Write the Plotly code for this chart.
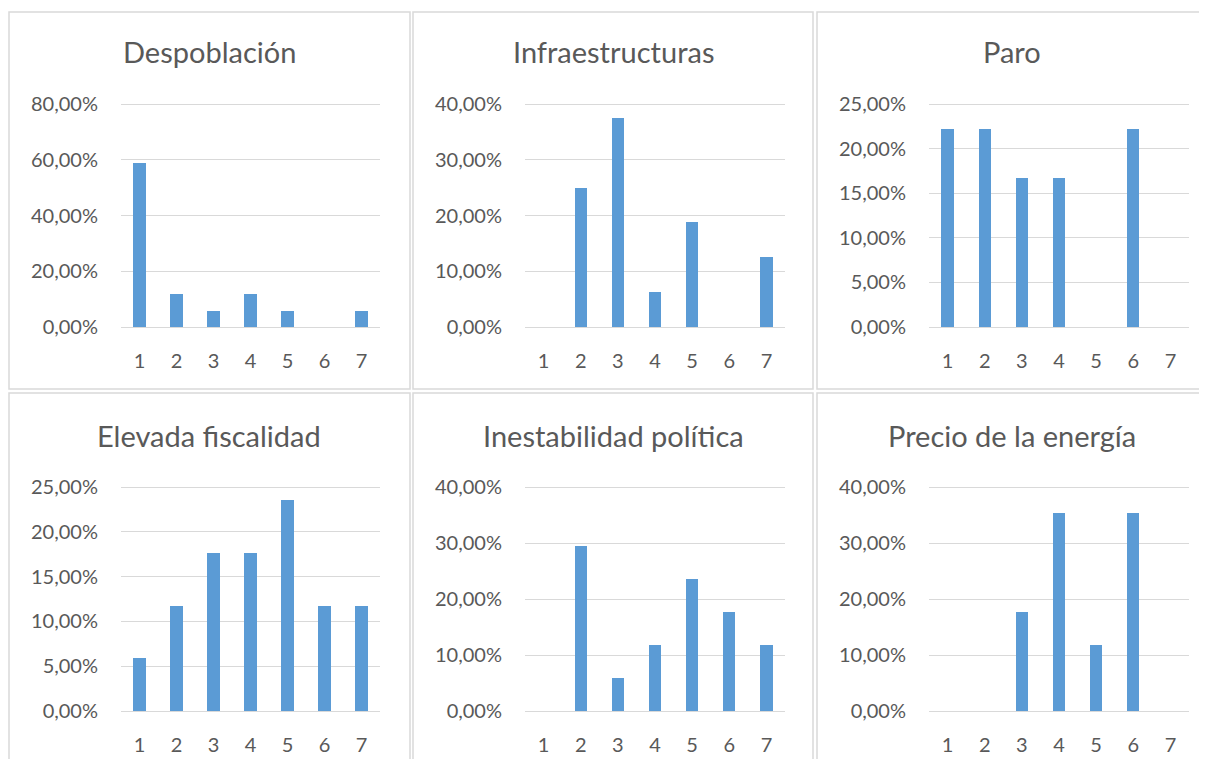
import plotly.graph_objects as go

categories = [1, 2, 3, 4, 5, 6, 7]

titles = ["Despoblación", "Infraestructuras", "Paro",
          "Elevada fiscalidad", "Inestabilidad política", "Precio de la energía"]

despoblacion = [0.5882, 0.1176, 0.0588, 0.1176, 0.0588, 0.0, 0.0588]
infraestructuras = [0.0, 0.25, 0.375, 0.0625, 0.1875, 0.0, 0.125]
paro = [0.2222, 0.2222, 0.1667, 0.1667, 0.0, 0.2222, 0.0]
fiscalidad = [0.0588, 0.1176, 0.1765, 0.1765, 0.2353, 0.1176, 0.1176]
inestabilidad = [0.0, 0.2941, 0.0588, 0.1176, 0.2353, 0.1765, 0.1176]
energia = [0.0, 0.0, 0.1765, 0.3529, 0.1176, 0.3529, 0.0]

series = [despoblacion, infraestructuras, paro, fiscalidad, inestabilidad, energia]
y_max = [0.8, 0.4, 0.25, 0.25, 0.4, 0.4]
y_step = [0.2, 0.1, 0.05, 0.05, 0.1, 0.1]

# page body has an 8px margin; figure sized to fit the window
OFF = 8
W, H = 1207 - 2 * OFF, 767 - 2 * OFF
# pixel layout (window coordinates)
plot_x = [(121, 380), (525, 785), (929, 1189)]
plot_y = [(104, 327), (487, 711)]
box_x = [(9, 410), (413, 813), (817, 1230)]
box_y = [(12, 389), (393, 790)]
title_y = [52, 436]
title_cx = [209.5, 613, 1012]
PAD = 2  # extra pixels so edge gridlines are drawn

GRAY = "#595959"
GRID = "#d9d9d9"
FONT = "Lato"


def px(v):
    return (v - OFF) / W


def py(v):
    return 1 - (v - OFF) / H


fig = go.Figure()
shapes = []
annotations = []

for i, (title, vals) in enumerate(zip(titles, series)):
    r, c = divmod(i, 3)
    n = i + 1
    xa = "x" if n == 1 else f"x{n}"
    ya = "y" if n == 1 else f"y{n}"
    fig.add_trace(go.Bar(
        x=categories, y=vals, xaxis=xa, yaxis=ya,
        marker=dict(color="#5b9bd5", line=dict(width=0)),
        width=0.33, showlegend=False, hoverinfo="x+y",
    ))
    x0, x1 = plot_x[c]
    y0, y1 = plot_y[r]
    xkey = "xaxis" if n == 1 else f"xaxis{n}"
    ykey = "yaxis" if n == 1 else f"yaxis{n}"
    fig.layout[xkey] = dict(
        domain=[px(x0), px(x1)], anchor=ya, range=[0.5, 7.5],
        tickmode="array", tickvals=categories, ticktext=[str(v) for v in categories],
        showgrid=False, zeroline=False, showline=False,
        ticks="", ticklabelstandoff=16 + PAD, automargin=False,
        tickfont=dict(family=FONT, size=20, color=GRAY), fixedrange=True,
    )
    nt = int(round(y_max[i] / y_step[i]))
    tv = [k * y_step[i] for k in range(nt + 1)]
    unit = y_max[i] / (y1 - y0)  # data per pixel
    fig.layout[ykey] = dict(
        domain=[py(y1 + PAD), py(y0 - PAD)], anchor=xa,
        range=[-PAD * unit, y_max[i] + PAD * unit],
        tickmode="array", tickvals=tv, tickformat=".2%",
        showgrid=True, gridcolor=GRID, gridwidth=1.3,
        zeroline=False, showline=False, ticks="", ticklabelstandoff=22,
        automargin=False,
        tickfont=dict(family=FONT, size=20, color=GRAY), fixedrange=True,
    )
    bx0, bx1 = box_x[c]
    by0, by1 = box_y[r]
    shapes.append(dict(type="rect", xref="paper", yref="paper",
                       x0=px(bx0), x1=px(bx1), y0=py(by1), y1=py(by0),
                       line=dict(color=GRID, width=1.5), fillcolor="rgba(0,0,0,0)",
                       layer="below"))
    annotations.append(dict(text=title, xref="paper", yref="paper",
                            x=px(title_cx[c]), y=py(title_y[r]),
                            xanchor="center", yanchor="middle",
                            showarrow=False,
                            font=dict(family=FONT, size=29, color=GRAY)))

fig.update_layout(
    width=W, height=H, margin=dict(l=0, r=0, t=0, b=0, autoexpand=False),
    paper_bgcolor="white", plot_bgcolor="white",
    separators=",.", shapes=shapes, annotations=annotations,
    bargap=0,
)

fig.write_html("out.html")
